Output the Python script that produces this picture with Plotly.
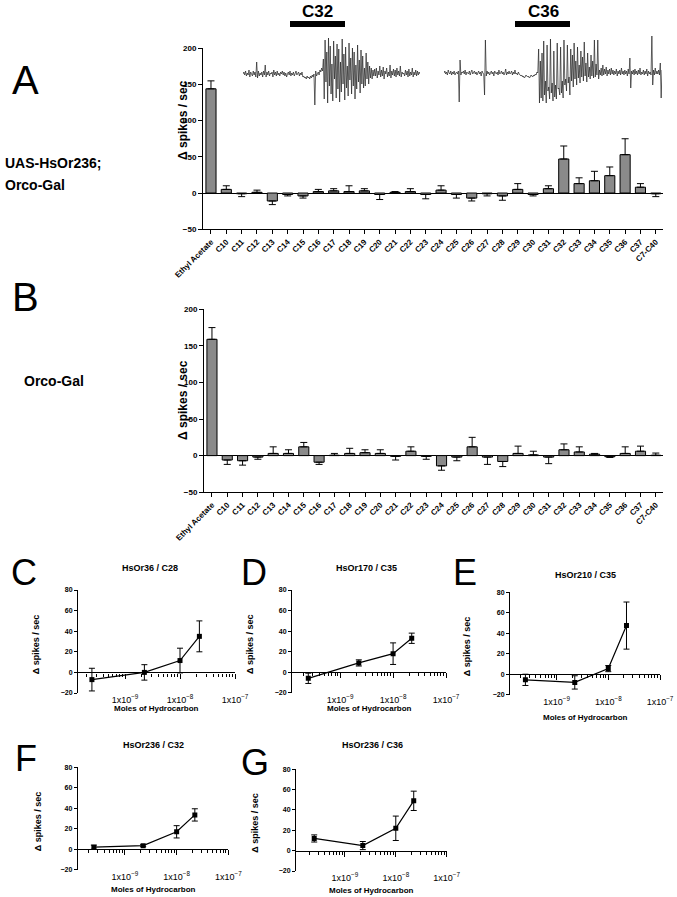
import plotly.graph_objects as go

W, H = 677, 897
FONT = "Liberation Sans, Arial, sans-serif"


def fx(p):
    return p / W


def fy(p):
    return 1 - p / H


# ---------------- data ----------------
categories = ["Ethyl Acetate", "C10", "C11", "C12", "C13", "C14", "C15", "C16", "C17",
              "C18", "C19", "C20", "C21", "C22", "C23", "C24", "C25", "C26", "C27",
              "C28", "C29", "C30", "C31", "C32", "C33", "C34", "C35", "C36", "C37",
              "C7-C40"]
a_values = [144, 5, -1, 1, -11, -2, -4, 2, 3, 2, 3, -2, 1, 2, -2, 4, -2, -7, -1, -4,
            5, -2, 6, 47, 13, 17, 24, 53, 8, -1]
a_errors = [11, 5, 4, 3, 5, 2, 3, 3, 3, 8, 3, 7, 1, 4, 6, 6, 5, 4, 3, 6,
            8, 2, 4, 18, 8, 13, 12, 22, 5, 4]
b_values = [159, -6, -7, -2, 3, 3, 12, -9, 0.5, 3, 4, 3, -1, 6, -1, -14, -2, 12, -2, -8,
            3, 1, -2, 8, 5, 2, -1.5, 3, 6, 0.5]
b_errors = [16, 6, 6, 3, 9, 5, 6, 3, 2.5, 7, 4, 5, 5, 6, 4, 6, 5, 13, 10, 7,
            10, 5, 9, 8, 7, 1, 1, 9, 7, 3]

doses = [2.5e-10, 2.25e-9, 1.0e-8, 2.25e-8]
c_values = [-7, 0, 11.5, 35]
c_errors = [11, 7.5, 12, 15]
d_values = [-6, 9, 18, 33]
d_errors = [5, 3, 10.5, 5]
e_values = [-5.5, -8, 5.5, 47.5]
e_errors = [5.5, 6.5, 3, 23]
f_values = [2, 3.5, 17, 33.5]
f_errors = [2, 1, 6, 6]
g_values = [12, 5, 22, 49]
g_errors = [3.5, 4, 12, 9.5]

# hand-read recording traces (arbitrary units, baseline 0)
trace_c32 = [
    0, 2, -1, 3, -2, 1, -1, 4, -3, 2,
    0, -2, 3, -1, 2, -3, 12, -4, 3, -2,
    1, -1, 2, -3, 3, -1, 9, -3, 2, -1,
    3, -2, 1, 0, 2, -3, 4, -1, 2, -2,
    3, -1, 1, -2, 2, 0, 3, -1, 2, -2,
    1, -3, 0, 2, -1, 3, -2, 1, -1, 2,
    -2, 1, 3, -1, 0, 2, -2, 1, -1, 2,
    -3, -2, -4, -3, -5, -2, -4, -3, -5, -2,
    -4, -1, -3, 0, -31, 3, -2, 1, 2, -1,
    4, 2, 6, 3,
    15, -25, 34, -8, 22, -29, 36, -12, 28, -20, 10, -27, 33, -5, 18, -24, 30, -15,
    25, -28, 12, -18, 35, -10, 20, -26, 27, -14, 8, -22, 31, -6, 16, -20, 26, -12,
    22, -25, 9, -15, 29, -8, 14, -19, 24, -10, 18, -14, 6, -12, 21, -5, 12, -10, 8, -4,
    6, -5, 4, -2, 5, -2, 6, -4, 3, -1, 8, -3, 4, -2, 7, -5, 3, 0, 6, -3, 2, -2, 9, -4,
    3, -1, 5, -2, 4, -3, 6, -1, 3, -2, 8, -3, 2, 0, 1, -2, 4, -1, 3, -3, 5, -2, 2, -1,
    6, -3, 2, -1, 4, -2, 3, -1, 2, 0]
trace_c36 = [
    0, 2, -1, 1, -2, 3, 0, -1, 2, -2,
    1, -1, 2, -2, 0, 1, -1, 2, -29, 13,
    -2, 1, 0, 2, -1, 3, -2, 1, 0, -1,
    2, -2, 1, 3, -1, 0, 2, -1, 1, -2,
    0, 2, -1, 1, -3, 2, 0, -1, -22, 33,
    -3, 2, -1, 1, -2, 0, 2, -1, 1, -3,
    2, 0, -1, 1, -2, 3, -1, 0, 2, -1,
    1, -2, 0, 4, -2, 1, -1, 2, -1, 0,
    2, -2, 1, -1, 3, -1, 0, -2, 1, -1,
    -2, -3, -2, -4, -3, -5, -4, -2, -3, -4,
    -3, -5, -4, -2, -3, -4, -2, -3, -1, -2,
    1, 0,
    24, -30, 12, -25, 20, -28, 32, -22, -8, -30, 28, -18, -14, -26, 34, -20, -10, -28,
    22, -24, -12, -26, 30, -16, -15, -22, 26, -20, -8, -25, 33, -12, -6, -18, 28, -10,
    -4, -22, 24, -8, 18, -14, 30, -6, 12, -12, 26, -5, 8, -10, 22, -4, 16, -8, 31, -3,
    10, -9, 20, -4, 6, -6, 18, -3,
    12, -5, 33, -4, 9, -2, 33, -6, 3, -2,
    5, -3, 8, -2, 4, -1, 6, -3, 3, -1,
    4, -2, 5, -1, 3, -2, 2, -1, 4, -3,
    2, -1, 3, -2, 5, -1, 2, -2, 3, -1,
    2, -3, 4, -1, 15, -15, 2, -1, 3, -2,
    4, -1, 2, -2, 3, -1, 5, -2, 1, -1,
    3, -2, 2, -1, 4, -3, 2, -1, 1, -2,
    37, -12, 3, -2, 5, -1, 2, -1, 3, -2,
    10, -25, 3]

fig = go.Figure()

BAR_GRAY = "#8a8a8a"


def add_bars(vals, errs, xa, ya):
    up = [e if v >= 0 else 0 for v, e in zip(vals, errs)]
    dn = [e if v < 0 else 0 for v, e in zip(vals, errs)]
    fig.add_trace(go.Bar(
        x=categories, y=vals, width=0.66,
        marker=dict(color=BAR_GRAY, line=dict(color="black", width=1)),
        error_y=dict(type="data", symmetric=False, array=up, arrayminus=dn,
                     color="black", thickness=1, width=3.5),
        xaxis=xa, yaxis=ya, showlegend=False))


add_bars(a_values, a_errors, "x", "y")
add_bars(b_values, b_errors, "x2", "y2")

# recordings
fig.add_trace(go.Scatter(x=list(range(len(trace_c32))), y=trace_c32, mode="lines",
                         line=dict(color="#222222", width=0.7), xaxis="x8", yaxis="y8",
                         showlegend=False))
fig.add_trace(go.Scatter(x=list(range(len(trace_c36))), y=trace_c36, mode="lines",
                         line=dict(color="#222222", width=0.7), xaxis="x9", yaxis="y9",
                         showlegend=False))

layout = dict(
    width=W, height=H, autosize=False,
    margin=dict(l=0, r=0, t=0, b=0, pad=0, autoexpand=False),
    paper_bgcolor="white", plot_bgcolor="white",
    font=dict(family=FONT, color="black"),
    showlegend=False, bargap=0.3,
)

bar_tickfont = dict(family=FONT, size=8, color="black", weight="bold")


def bar_axes(n, x0, x1, ytop, ybot):
    sx = "" if n == 1 else str(n)
    layout["xaxis" + sx] = dict(
        domain=[fx(x0), fx(x1)], anchor="y" + sx, type="category", automargin=False,
        range=[-0.52, 29.47], showline=True, linecolor="black", linewidth=1,
        ticks="outside", ticklen=4, tickcolor="black", tickangle=-45,
        tickfont=bar_tickfont, showgrid=False, zeroline=False, fixedrange=True)
    layout["yaxis" + sx] = dict(
        domain=[fy(ybot), fy(ytop)], anchor="x" + sx, range=[-50, 200], automargin=False,
        tickvals=[-50, 0, 50, 100, 150, 200], showline=True, linecolor="black",
        linewidth=1, ticks="outside", ticklen=4, tickcolor="black",
        tickfont=bar_tickfont, showgrid=False, zeroline=True, zerolinecolor="black",
        zerolinewidth=1)


bar_axes(1, 203, 663, 48.3, 229.2)
bar_axes(2, 204, 663, 309.3, 492.2)

# recording axes
layout["xaxis8"] = dict(domain=[fx(243), fx(420)], anchor="y8", visible=False,
                        automargin=False, range=[0, len(trace_c32) - 1])
layout["yaxis8"] = dict(domain=[fy(114), fy(34)], anchor="x8", visible=False,
                        automargin=False, range=[-40, 40])
layout["xaxis9"] = dict(domain=[fx(444), fx(662)], anchor="y9", visible=False,
                        automargin=False, range=[0, len(trace_c36) - 1])
layout["yaxis9"] = dict(domain=[fy(113), fy(33)], anchor="x9", visible=False,
                        automargin=False, range=[-40, 40])

small_tick = dict(family=FONT, size=7, color="black", weight="bold")
minor_vals = [m * 10.0 ** k for k in range(-10, -7) for m in range(2, 10)]

annotations = []
shapes = []


def small_panel(n, zn, vals, errs, x0, x1, lo, ytop, ybot, title, title_xy, letter,
                letter_xy, ylab_x, xlab_y):
    sx, sy = str(n), str(n)
    fig.add_trace(go.Scatter(
        x=doses, y=vals, mode="lines+markers",
        line=dict(color="black", width=1.2),
        marker=dict(symbol="square", size=5, color="black"),
        error_y=dict(type="data", array=errs, color="black", thickness=1, width=3),
        xaxis="x" + sx, yaxis="y" + sy, showlegend=False))
    fig.add_trace(go.Scatter(x=[None], y=[None], xaxis="x" + str(zn), yaxis="y" + sy,
                             showlegend=False))
    ydom = [fy(ybot), fy(ytop)]
    layout["xaxis" + sx] = dict(
        domain=[fx(x0), fx(x1)], anchor="y" + sy, type="log", range=[lo, -7],
        automargin=False, tickvals=[1e-9, 1e-8, 1e-7],
        ticktext=["1x10<sup>\u22129</sup>", "1x10<sup>\u22128</sup>", "1x10<sup>\u22127</sup>"],
        tickfont=dict(family=FONT, size=9, color="black"), ticks="", showline=False,
        showgrid=False, zeroline=False)
    zero_pos = ydom[0] + 20 / 100 * (ydom[1] - ydom[0])
    layout["xaxis" + str(zn)] = dict(
        overlaying="x" + sx, anchor="free", position=zero_pos, type="log",
        automargin=False, range=[lo, -7], tickvals=[1e-9, 1e-8, 1e-7],
        showticklabels=False,
        showline=True, linecolor="black", linewidth=1.2, ticks="outside", ticklen=5,
        tickcolor="black", showgrid=False, zeroline=False,
        minor=dict(tickvals=minor_vals, ticks="outside", ticklen=3, tickcolor="black",
                   showgrid=False))
    layout["yaxis" + sy] = dict(
        domain=ydom, anchor="x" + sx, range=[-20, 80], automargin=False,
        tickvals=[-20, 0, 20, 40, 60, 80], showline=True, linecolor="black", linewidth=1,
        ticks="outside", ticklen=3, tickcolor="black", tickfont=small_tick,
        showgrid=False, zeroline=False)
    annotations.append(dict(x=fx(title_xy[0]), y=fy(title_xy[1]), text=title,
                            font=dict(family=FONT, size=9, weight="bold")))
    annotations.append(dict(x=fx(letter_xy[0]), y=fy(letter_xy[1]), text=letter,
                            font=dict(family=FONT, size=36)))
    annotations.append(dict(x=fx(ylab_x), y=(ydom[0] + ydom[1]) / 2 - 0.003,
                            text="\u0394 spikes / sec", textangle=-90,
                            font=dict(family=FONT, size=9, weight="bold")))
    annotations.append(dict(x=fx((x0 + x1) / 2), y=fy(xlab_y), text="Moles of Hydrocarbon",
                            font=dict(family=FONT, size=8, weight="bold")))


small_panel(3, 10, c_values, c_errors, 78, 235, -9.855, 590, 693, "HsOr36 / C28",
            (150, 568), "C", (24, 572), 36, 708)
small_panel(4, 11, d_values, d_errors, 292, 446, -9.91, 590, 692.7, "HsOr170 / C35",
            (367, 568), "D", (254, 572), 250, 708)
small_panel(5, 12, e_values, e_errors, 510, 660, -9.9, 592.3, 694.7, "HsOr210 / C35",
            (585, 575), "E", (465, 572), 467, 717)
small_panel(6, 13, f_values, f_errors, 77.7, 228.3, -9.915, 767.3, 869.7, "HsOr236 / C32",
            (153, 745), "F", (26, 758), 38, 889)
small_panel(7, 14, g_values, g_errors, 296, 446.7, -9.96, 769.3, 871, "HsOr236 / C36",
            (372, 745), "G", (255, 762), 255, 890)

# panel A/B texts
big = dict(family=FONT, size=40)
annotations += [
    dict(x=fx(25), y=fy(80), text="A", font=big),
    dict(x=fx(25), y=fy(297), text="B", font=big),
    dict(x=fx(3), y=fy(163), text="UAS-HsOr236;", xanchor="left",
         font=dict(family=FONT, size=14, weight="bold")),
    dict(x=fx(3), y=fy(185), text="Orco-Gal", xanchor="left",
         font=dict(family=FONT, size=14, weight="bold")),
    dict(x=fx(22), y=fy(381), text="Orco-Gal", xanchor="left",
         font=dict(family=FONT, size=14, weight="bold")),
    dict(x=fx(183), y=fy(120), text="\u0394 spikes / sec", textangle=-90,
         font=dict(family=FONT, size=12, weight="bold")),
    dict(x=fx(183), y=fy(400), text="\u0394 spikes / sec", textangle=-90,
         font=dict(family=FONT, size=12, weight="bold")),
    dict(x=fx(317), y=fy(12), text="C32", font=dict(family=FONT, size=17, weight="bold")),
    dict(x=fx(543), y=fy(12), text="C36", font=dict(family=FONT, size=17, weight="bold")),
]
for a in annotations:
    a.setdefault("xref", "paper")
    a.setdefault("yref", "paper")
    a.setdefault("showarrow", False)
    a.setdefault("xanchor", "center")
    a.setdefault("yanchor", "middle")

shapes += [
    dict(type="rect", xref="paper", yref="paper", x0=fx(290), x1=fx(345), y0=fy(27),
         y1=fy(21), fillcolor="black", line=dict(width=0)),
    dict(type="rect", xref="paper", yref="paper", x0=fx(515), x1=fx(570), y0=fy(27),
         y1=fy(21), fillcolor="black", line=dict(width=0)),
]

layout["annotations"] = annotations
layout["shapes"] = shapes
fig.update_layout(**layout)
fig.write_html("out.html", config={"displayModeBar": False},
               post_script="document.body.style.margin='0px';")
